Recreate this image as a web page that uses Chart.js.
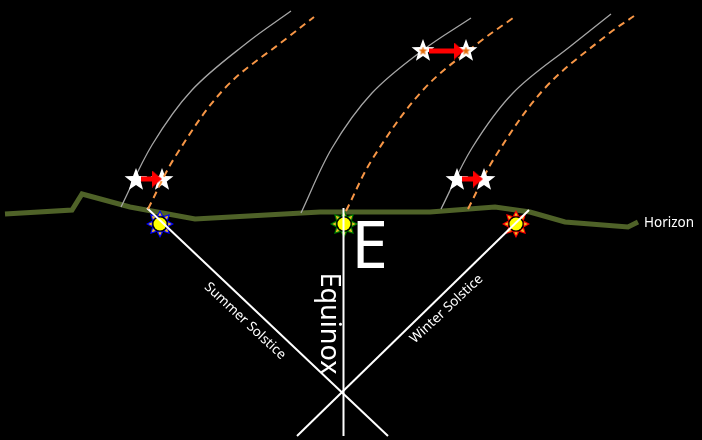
<!DOCTYPE html>
<html><head><meta charset="utf-8">
<style>html,body{margin:0;padding:0;background:#000;overflow:hidden}canvas{display:block}</style>
<script src="https://cdn.jsdelivr.net/npm/chart.js@4"></script></head>
<body><canvas id="c" width="702" height="440" style="width:702px;height:440px"></canvas>
<script>
const horizon=[[5,214],[72,210],[82,194],[130,207],[195,219],[320,212],[345,212],[430,212],[495,207],[530,212],[565,222],[628,227],[638,222]];
const graySummer=[[121,207],[152,145],[192,90],[248,42],[291,11]];
const grayEquinox=[[301,213],[332,148],[372,93],[423,50],[471,18]];
const grayWinter=[[441,209],[472,148],[513,93],[572,45],[611,14]];
const orangeSummer=[[148,209],[175,157],[225,88],[287,38],[314,17]];
const orangeEquinox=[[346,211],[373,158],[423,90],[477,44],[513,18]];
const orangeWinter=[[468,209],[495,157],[545,88],[607,35],[634,16]];
const pathSummer=[[147,208],[388,436]];
const pathEquinox=[[343.5,208],[343.5,436]];
const pathWinter=[[529,210],[297,436]];
const arrows=[[[141,179],[157,179]],[[429,51],[459,51]],[[462,179],[478,179]]];
const whiteStars=[[136,180],[162,180],[423,51],[466,51],[457,180],[484,180]];
const orangeCores=[[423,51],[466,51]];
const suns=[[160,224,'#0000ff'],[344,224,'#008000'],[516,224,'#ff0000']];
const labels=[
 ['Horizon',644,223,0,13.5,'left'],
 ['Summer Solstice',245,321,43,13.5,'center'],
 ['Winter Solstice',446.5,309,-43,13.5,'center'],
 ['Equinox',329,323.5,90,27,'center'],
 ['E',369.5,249,0,66,'center']
];
const pts=a=>a.map(p=>({x:p[0],y:p[1]}));
function starIcon(size,fill){
 const c=document.createElement('canvas');c.width=c.height=size;const g=c.getContext('2d');
 const m=size/2,R=size/2,r=R*0.42;g.beginPath();
 for(let i=0;i<10;i++){const a=-Math.PI/2+i*Math.PI/5,q=i%2?r:R;g.lineTo(m+q*Math.cos(a),m+q*Math.sin(a));}
 g.closePath();g.fillStyle=fill;g.fill();return c;
}
function headIcon(w,h){
 const c=document.createElement('canvas');c.width=w;c.height=h;const g=c.getContext('2d');
 g.beginPath();g.moveTo(0,0);g.lineTo(w,h/2);g.lineTo(0,h);g.closePath();g.fillStyle='#ff0000';g.fill();return c;
}
function sunIcon(col){
 const s=30,c=document.createElement('canvas');c.width=c.height=s;const g=c.getContext('2d'),m=s/2;
 for(let i=0;i<8;i++){const a=i*Math.PI/4;g.save();g.translate(m,m);g.rotate(a);g.beginPath();
  g.moveTo(-3.4,-7.6);g.lineTo(0,-14);g.lineTo(3.4,-7.6);g.closePath();g.fillStyle=col;g.fill();
  g.beginPath();g.moveTo(-1.7,-8.2);g.lineTo(0,-11.6);g.lineTo(1.7,-8.2);g.closePath();g.fillStyle='#f0c020';g.fill();g.restore();}
 g.beginPath();g.arc(m,m,6.5,0,7);g.fillStyle='#ffff00';g.fill();
 return c;
}
const line=(d,col,w,extra={})=>Object.assign({type:'line',data:pts(d),borderColor:col,borderWidth:w,pointRadius:0,fill:false,showLine:true},extra);
const smooth={tension:.35};
const dashed=Object.assign({borderDash:[7,5]},smooth);
const bottomToTop=[
 line(horizon,'#4f6228',5),
 line(graySummer,'#a6a6a6',1.3,smooth),line(grayEquinox,'#a6a6a6',1.3,smooth),line(grayWinter,'#a6a6a6',1.3,smooth),
 line(orangeEquinox,'#f79646',2,dashed),line(orangeWinter,'#f79646',2,dashed),
 ...suns.map(s=>({type:'scatter',data:[{x:s[0],y:s[1]}],pointStyle:sunIcon(s[2]),pointRadius:15})),
 line(pathSummer,'#fff',2),line(pathEquinox,'#fff',2),line(pathWinter,'#fff',2),
 {type:'scatter',data:pts(whiteStars),pointStyle:starIcon(24,'#fff'),pointRadius:12},
 ...arrows.map(a=>line(a,'#ff0000',5)),
 {type:'scatter',data:arrows.map(a=>({x:a[1][0],y:a[1][1]})),pointStyle:headIcon(10,17),pointRadius:10},
 line(orangeSummer,'#f79646',2,dashed),
 {type:'scatter',data:pts(orangeCores),pointStyle:starIcon(9,'#e36c0a'),pointRadius:4.5}
];
const datasets=bottomToTop.reverse();
const textPlugin={id:'txt',afterDatasetsDraw(ch){
 const g=ch.ctx,X=ch.scales.x,Y=ch.scales.y;
 labels.forEach(l=>{g.save();g.translate(X.getPixelForValue(l[1]),Y.getPixelForValue(l[2]));g.rotate(l[3]*Math.PI/180);
  g.font=l[4]+'px "Noto Sans", sans-serif';g.fillStyle='#fff';g.textAlign=l[5];g.textBaseline='middle';g.fillText(l[0],0,0);g.restore();});
}};
new Chart(document.getElementById('c'),{type:'scatter',data:{datasets},plugins:[textPlugin],options:{
 responsive:false,animation:false,layout:{padding:0,autoPadding:false},
 plugins:{legend:{display:false},tooltip:{enabled:false},title:{display:false}},
 scales:{x:{type:'linear',min:0,max:702,display:false},y:{type:'linear',min:0,max:440,reverse:true,display:false}}
}});
</script></body></html>
